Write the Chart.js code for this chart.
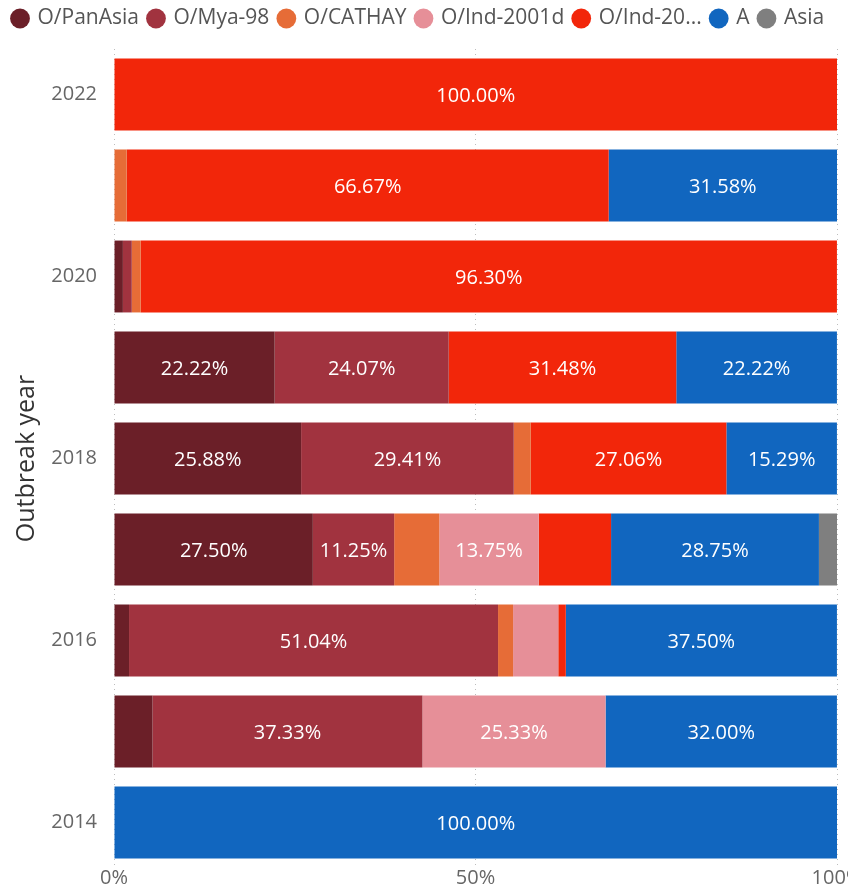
<!DOCTYPE html>
<html>
<head>
<meta charset="utf-8">
<script src="https://cdn.jsdelivr.net/npm/chart.js@4.4.1/dist/chart.umd.min.js"></script>
<style>
  html, body { margin: 0; padding: 0; background: #fff; }
  #wrap { width: 848px; height: 889px; }
</style>
</head>
<body>
<div id="wrap"><canvas id="chartSerotipos"></canvas></div>
<script>
// años de brote, de arriba hacia abajo
const years = ["2022", "2021", "2020", "2019", "2018", "2017", "2016", "2015", "2014"];

// porcentaje de cada linaje por año
const panAsia  = [0, 0, 1.23, 22.22, 25.88, 27.50, 2.08, 5.33, 0];
const mya98    = [0, 0, 1.23, 24.07, 29.41, 11.25, 51.04, 37.33, 0];
const cathay   = [0, 1.75, 1.23, 0, 2.35, 6.25, 2.08, 0, 0];
const ind2001d = [0, 0, 0, 0, 0, 13.75, 6.25, 25.33, 0];
const ind20xx  = [100, 66.67, 96.30, 31.48, 27.06, 10.00, 1.04, 0, 0];
const serotipoA = [0, 31.58, 0, 22.22, 15.29, 28.75, 37.50, 32.00, 100];
const asia     = [0, 0, 0, 0, 0, 2.50, 0, 0, 0];

const xTicks = [0, 50, 100];

const fuente = "'Segoe UI', 'Open Sans', 'Noto Sans', sans-serif";

// etiquetas blancas dentro de los segmentos grandes
const etiquetasBarras = {
    id: "etiquetasBarras",
    afterDatasetsDraw(chart) {
        const ctx = chart.ctx;
        ctx.save();
        ctx.fillStyle = "#ffffff";
        ctx.font = "20px " + fuente;
        ctx.textAlign = "center";
        ctx.textBaseline = "middle";
        chart.data.datasets.forEach((ds, i) => {
            const meta = chart.getDatasetMeta(i);
            meta.data.forEach((bar, j) => {
                const v = ds.data[j];
                if (v < 11) return;
                const cx = (bar.x + bar.base) / 2;
                ctx.fillText(v.toFixed(2) + "%", cx, bar.y + 2);
            });
        });
        ctx.restore();
    }
};

// espacio extra debajo de la leyenda
const margenLeyenda = {
    id: "margenLeyenda",
    beforeInit(chart) {
        const fitOriginal = chart.legend.fit;
        chart.legend.fit = function () {
            fitOriginal.bind(chart.legend)();
            this.height += 10;
        };
    }
};

const series = [
    { label: "O/PanAsia", data: panAsia, backgroundColor: "#6b1f28" },
    { label: "O/Mya-98", data: mya98, backgroundColor: "#a1333f" },
    { label: "O/CATHAY", data: cathay, backgroundColor: "#e66c37" },
    { label: "O/Ind-2001d", data: ind2001d, backgroundColor: "#e68f98" },
    { label: "O/Ind-20...", data: ind20xx, backgroundColor: "#f2260a" },
    { label: "A", data: serotipoA, backgroundColor: "#1166bf" },
    { label: "Asia", data: asia, backgroundColor: "#7f7f7f" }
];

const ctx = document.getElementById("chartSerotipos").getContext("2d");

new Chart(ctx, {
    type: "bar",
    data: {
        labels: years,
        datasets: series.map(s => ({
            ...s,
            borderWidth: 0,
            barPercentage: 0.79,
            categoryPercentage: 1
        }))
    },
    options: {
        indexAxis: "y",
        responsive: true,
        maintainAspectRatio: false,
        animation: false,
        layout: { padding: { left: 3, right: 11, top: -2, bottom: -6 } },
        plugins: {
            legend: {
                position: "top",
                align: "start",
                labels: {
                    usePointStyle: true,
                    pointStyle: "circle",
                    boxWidth: 14,
                    boxHeight: 14,
                    padding: 10,
                    color: "#555",
                    font: { size: 21, family: fuente }
                }
            },
            tooltip: { enabled: false }
        },
        scales: {
            x: {
                stacked: true,
                min: 0,
                max: 100,
                afterBuildTicks: axis => {
                    axis.ticks = xTicks.map(v => ({ value: v }));
                },
                // el "100%" se corta en el borde, no se reserva espacio
                afterFit: scale => {
                    scale.paddingLeft = 0;
                    scale.paddingRight = 0;
                },
                ticks: {
                    color: "#666",
                    padding: 0,
                    font: { size: 20, family: fuente, lineHeight: 1 },
                    callback: v => v + "%"
                },
                grid: {
                    color: "#bdbdbd",
                    drawTicks: false
                },
                border: { display: false, dash: [1, 4] }
            },
            y: {
                stacked: true,
                afterFit: scale => {
                    scale.width = 111;
                },
                title: {
                    display: true,
                    text: "Outbreak year",
                    color: "#333",
                    padding: { top: 9, bottom: 8 },
                    font: { size: 25, family: fuente }
                },
                ticks: {
                    color: "#666",
                    padding: 9,
                    font: { size: 20, family: fuente },
                    autoSkip: false,
                    callback: function (v) {
                        const anio = this.getLabelForValue(v);
                        return Number(anio) % 2 === 0 ? anio : "";
                    }
                },
                grid: { display: false },
                border: { display: false }
            }
        }
    },
    plugins: [etiquetasBarras, margenLeyenda]
});
</script>
</body>
</html>
